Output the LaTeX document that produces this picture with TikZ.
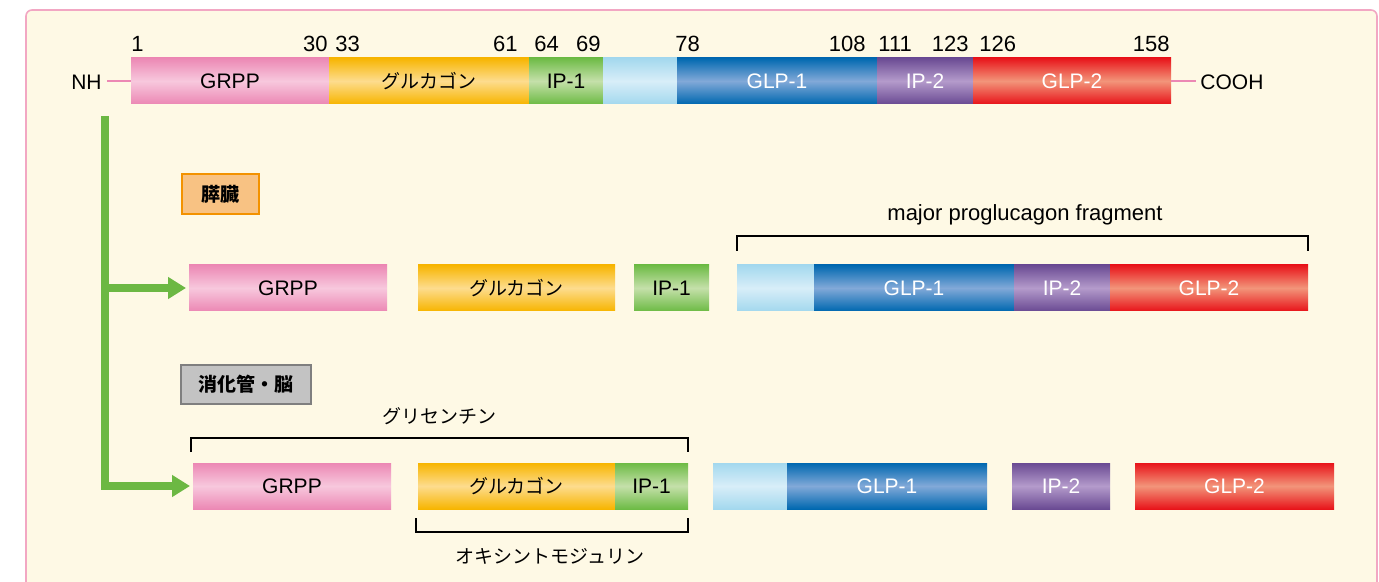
\documentclass[tikz,border=0pt]{standalone}
\usepackage{fontspec}
\setmainfont{Liberation Sans}
\newfontfamily\jp{Noto Sans CJK JP}
\usetikzlibrary{arrows.meta}
\definecolor{bgfill}{HTML}{FEF9E5}
\definecolor{bgline}{HTML}{F2A7C3}
\definecolor{grppE}{HTML}{EC88B4}
\definecolor{grppM}{HTML}{F7C8DD}
\definecolor{gluE}{HTML}{F7B500}
\definecolor{gluM}{HTML}{FDDC8E}
\definecolor{ipoE}{HTML}{6DBB45}
\definecolor{ipoM}{HTML}{C5E0AA}
\definecolor{lbE}{HTML}{A3D8EE}
\definecolor{lbM}{HTML}{D8EEF8}
\definecolor{glpoE}{HTML}{0068B0}
\definecolor{glpoM}{HTML}{82A9D8}
\definecolor{iptE}{HTML}{6A4A93}
\definecolor{iptM}{HTML}{B49BCB}
\definecolor{glptE}{HTML}{E8141A}
\definecolor{glptM}{HTML}{F2957A}
\definecolor{arrowgreen}{HTML}{6CB843}
\definecolor{panfill}{HTML}{F8C283}
\definecolor{panline}{HTML}{F39200}
\definecolor{gutfill}{HTML}{C3C3C3}
\definecolor{gutline}{HTML}{7F7F7F}
\tikzset{
  seg/.style={anchor=west, minimum height=23pt, inner sep=0pt, outer sep=0pt,
    font=\fontsize{10.5}{12}\selectfont},
  jptext/.style={font=\jp\fontsize{9.5}{11}\selectfont},
  grppseg/.style={seg, top color=grppE, bottom color=grppE, middle color=grppM},
  gluseg/.style={seg, jptext, top color=gluE, bottom color=gluE, middle color=gluM},
  iposeg/.style={seg, top color=ipoE, bottom color=ipoE, middle color=ipoM},
  lbseg/.style={seg, top color=lbE, bottom color=lbE, middle color=lbM},
  glposeg/.style={seg, text=white, top color=glpoE, bottom color=glpoE, middle color=glpoM},
  iptseg/.style={seg, text=white, top color=iptE, bottom color=iptE, middle color=iptM},
  glptseg/.style={seg, text=white, top color=glptE, bottom color=glptE, middle color=glptM},
  num/.style={inner sep=0pt, font=\fontsize{11}{13}\selectfont},
  term/.style={inner sep=0pt, font=\fontsize{10.5}{12}\selectfont},
  pinkline/.style={draw=grppE, line width=1.1pt},
  greenline/.style={draw=arrowgreen, line width=4pt, line join=miter},
  greenarrow/.style={greenline, -{Triangle[length=9pt,width=10.5pt]}},
  bracketline/.style={draw=black, line width=1pt},
  tissue/.style={inner sep=0pt, outer sep=0pt, line width=1.2pt,
    font=\jp\bfseries\fontsize{9.5}{11}\selectfont},
}
\begin{document}
\begin{tikzpicture}[x=0.5pt, y=-0.5pt]
\useasboundingbox (0,0) rectangle (1379,582);
\begin{scope}
\clip (0,0) rectangle (1379,582);
\draw[fill=bgfill, draw=bgline, line width=0.8pt, rounded corners=3pt] (26,10) rectangle (1377,640);
\end{scope}

% ---- top row: full proglucagon ----
\node[grppseg, minimum width=99pt]  (grppA) at (131,81) {GRPP};
\node[gluseg,  minimum width=100pt] (gluA)  at (329,81) {グルカゴン};
\node[iposeg,  minimum width=37pt]  (ipoA)  at (529,81) {IP-1};
\node[lbseg,   minimum width=37pt]  (lbA)   at (603,81) {};
\node[glposeg, minimum width=100pt] (glpoA) at (677,81) {GLP-1};
\node[iptseg,  minimum width=48pt]  (iptA)  at (877,81) {IP-2};
\node[glptseg, minimum width=99pt]  (glptA) at (973,81) {GLP-2};

\node[term, anchor=east] (nh) at (102,82) {NH};
\node[term, anchor=west] (cooh) at (1200,82) {COOH};
\draw[pinkline, shorten <=2.5pt] (nh.east |- grppA.west) -- (grppA.west);
\draw[pinkline, shorten >=2pt] (glptA.east) -- (cooh.west |- glptA.east);

\node[num, anchor=base west] (n1)   at (131,52) {1};
\node[num, anchor=base east] (n30)  at (328,52) {30};
\node[num, anchor=base west] (n33)  at (335,52) {33};
\node[num, anchor=base east] (n61)  at (518,52) {61};
\node[num, anchor=base west] (n64)  at (534,52) {64};
\node[num, anchor=base east] (n69)  at (601,52) {69};
\node[num, anchor=base west] (n78)  at (675,52) {78};
\node[num, anchor=base east] (n108) at (866,52) {108};
\node[num, anchor=base west] (n111) at (878,52) {111};
\node[num, anchor=base east] (n123) at (969,52) {123};
\node[num, anchor=base west] (n126) at (979,52) {126};
\node[num, anchor=base east] (n158) at (1170,52) {158};

% ---- pancreas ----
\node[tissue, fill=panfill, draw=panline, minimum width=38.5pt, minimum height=20pt] (pan) at (220.5,194) {膵臓};

\node[grppseg, minimum width=99pt]   (grppB) at (189,288) {GRPP};
\node[gluseg,  minimum width=98.5pt] (gluB)  at (418,288) {グルカゴン};
\node[iposeg,  minimum width=37.5pt] (ipoB)  at (634,288) {IP-1};
\node[lbseg,   minimum width=38.5pt] (lbB)   at (737,288) {};
\node[glposeg, minimum width=100pt]  (glpoB) at (814,288) {GLP-1};
\node[iptseg,  minimum width=48pt]   (iptB)  at (1014,288) {IP-2};
\node[glptseg, minimum width=99pt]   (glptB) at (1110,288) {GLP-2};

\draw[bracketline] ([yshift=7pt]lbB.north west) -- ++(0,-15) -| ([yshift=7pt]glptB.north east);
\node[term, font=\fontsize{11}{13}\selectfont] (mpgf) at (1025,215) {major proglucagon fragment};

% ---- gut / brain ----
\node[tissue, fill=gutfill, draw=gutline, minimum width=65pt, minimum height=19.5pt] (gut) at (246,384.5) {消化管・脳};

\node[grppseg, minimum width=99pt]   (grppC) at (193,486) {GRPP};
\node[gluseg,  minimum width=98.5pt] (gluC)  at (418,486) {グルカゴン};
\node[iposeg,  minimum width=36.5pt] (ipoC)  at (615,486) {IP-1};
\node[lbseg,   minimum width=37pt]   (lbC)   at (713,486) {};
\node[glposeg, minimum width=100pt]  (glpoC) at (787,486) {GLP-1};
\node[iptseg,  minimum width=49pt]   (iptC)  at (1012,486) {IP-2};
\node[glptseg, minimum width=99.5pt] (glptC) at (1135,486) {GLP-2};

\draw[bracketline] ([xshift=-1pt,yshift=5.5pt]grppC.north west) -- ++(0,-14) -| ([yshift=5.5pt]ipoC.north east);
\node[jptext, inner sep=0pt] (glic) at (439,416) {グリセンチン};
\draw[bracketline] ([xshift=-1pt,yshift=-4.5pt]gluC.south west) -- ++(0,14) -| ([yshift=-4.5pt]ipoC.south east);
\node[jptext, inner sep=0pt] (oxm) at (550,556) {オキシントモジュリン};

% ---- green arrows ----
\coordinate (gtop) at (105,116);
\coordinate (gb1) at (105,288);
\coordinate (gb2) at (105,486);
\draw[greenarrow, shorten >=1.5pt] (gtop) -- (gb2) -- (grppC.west);
\draw[greenarrow, shorten >=1.5pt] (gb1) -- (grppB.west);
\end{tikzpicture}
\end{document}
